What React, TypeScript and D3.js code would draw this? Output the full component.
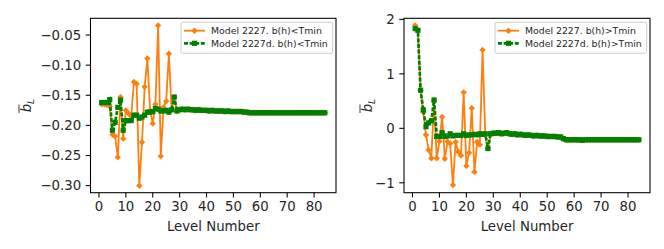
import * as d3 from 'd3'

// level numbers on the x axis
const levels = d3.range(1, 85)

// left panel: b(h)<Tmin
const leftGreen = [
  -0.162, -0.162, -0.162, -0.157, -0.208, -0.195, -0.17, -0.158, -0.208, -0.192,
  -0.192, -0.192, -0.183, -0.183, -0.188, -0.186, -0.183, -0.178, -0.178, -0.177,
  -0.172, -0.173, -0.176, -0.176, -0.175, -0.178, -0.174, -0.153, -0.176, -0.174,
  -0.173, -0.174, -0.173, -0.174, -0.174, -0.175, -0.174, -0.175, -0.175, -0.175,
  -0.176, -0.175, -0.176, -0.176, -0.176, -0.176, -0.177, -0.176, -0.177, -0.177,
  -0.177, -0.177, -0.177, -0.178, -0.178, -0.179, -0.179, -0.179, -0.179, -0.179,
  -0.179, -0.179, -0.179, -0.179, -0.179, -0.179, -0.179, -0.179, -0.179, -0.179,
  -0.179, -0.179, -0.179, -0.179, -0.179, -0.179, -0.179, -0.179, -0.179, -0.179,
  -0.179, -0.179, -0.179, -0.179,
]
const leftOrangeHead = [
  -0.165, -0.165, -0.166, -0.168, -0.215, -0.218, -0.253, -0.153, -0.222, -0.175,
  -0.18, -0.185, -0.128, -0.131, -0.3, -0.228, -0.136, -0.089, -0.175, -0.197,
  -0.165, -0.034, -0.251, -0.17, -0.16, -0.081,
]

// right panel: b(h)>Tmin
const rightGreen = [
  1.83, 1.8, 0.7, 0.34, 0.03, 0.1, 0.14, 0.52, -0.15, -0.15,
  -0.08, -0.15, -0.14, -0.1, -0.14, -0.13, -0.13, -0.13, -0.1, -0.13,
  -0.12, -0.12, -0.11, -0.12, -0.1, -0.11, -0.1, -0.37, -0.1, -0.09,
  -0.09, -0.08, -0.1, -0.09, -0.08, -0.1, -0.11, -0.1, -0.12, -0.11,
  -0.12, -0.13, -0.12, -0.13, -0.14, -0.13, -0.14, -0.14, -0.14, -0.15,
  -0.15, -0.15, -0.15, -0.16, -0.16, -0.19, -0.21, -0.21, -0.21, -0.21,
  -0.21, -0.21, -0.22, -0.21, -0.21, -0.21, -0.21, -0.21, -0.21, -0.21,
  -0.21, -0.21, -0.21, -0.21, -0.21, -0.21, -0.21, -0.21, -0.21, -0.21,
  -0.21, -0.21, -0.21, -0.21,
]
const rightOrangeHead = [
  1.89, 1.8, 0.7, 0.3, -0.12, -0.4, -0.55, 0.5, -0.55, -0.24,
  0.21, -0.56, -0.24, -0.28, -1.04, -0.25, -0.43, -0.5, 0.66, -0.69,
  -0.45, 0.37, -0.8, -0.25, -0.3, 1.44,
]

const xTicks = [0, 10, 20, 30, 40, 50, 60, 70, 80]
const leftTicks = [-0.3, -0.25, -0.2, -0.15, -0.1, -0.05]
const rightTicks = [-1, 0, 1, 2]
const leftLabels = ['Model 2227. b(h)<Tmin', 'Model 2227d. b(h)<Tmin']
const rightLabels = ['Model 2227. b(h)>Tmin', 'Model 2227d. b(h)>Tmin']

const ORANGE = '#ff7f0e'
const GREEN = '#008000'
const FONT = 'DejaVu Sans, sans-serif'
const top = 18.3
const bottom = 192.7
const SQ = 5.2
const DASH = '4 1.6'

const diamond = (r: number) => `M0,${-r}L${r},0L0,${r}L${-r},0Z`

type PanelProps = {
  left: number
  right: number
  yDomain: [number, number]
  yTicks: number[]
  fmt: (v: number) => string
  orange: number[]
  green: number[]
  labels: string[]
  labelX: number
}

const Panel = ({ left, right, yDomain, yTicks, fmt, orange, green, labels, labelX }: PanelProps) => {
  const x = d3.scaleLinear().domain([-3.15, 88.15]).range([left, right])
  const y = d3.scaleLinear().domain(yDomain).range([bottom, top])
  const line = d3
    .line<number>()
    .x((_, i) => x(levels[i]))
    .y(d => y(d))
  const clipId = `clip-${left}`
  const legW = 151.7
  const legX = right - 3.3 - legW
  const legY = top + 4
  return (
    <g>
      <defs>
        <clipPath id={clipId}>
          <rect x={left} y={top} width={right - left} height={bottom - top} />
        </clipPath>
      </defs>
      <g clipPath={`url(#${clipId})`}>
        <path d={line(orange) ?? ''} fill="none" stroke={ORANGE} strokeWidth={1.8} />
        {orange.map((v, i) => (
          <path key={i} d={diamond(3.2)} transform={`translate(${x(levels[i])},${y(v)})`} fill={ORANGE} />
        ))}
        <path
          d={line(green) ?? ''}
          fill="none"
          stroke={GREEN}
          strokeWidth={2.7}
          strokeDasharray={DASH}
        />
        {green.map((v, i) => (
          <rect key={i} x={x(levels[i]) - SQ / 2} y={y(v) - SQ / 2} width={SQ} height={SQ} fill={GREEN} />
        ))}
      </g>
      <rect
        x={left}
        y={top}
        width={right - left}
        height={bottom - top}
        fill="none"
        stroke="#000"
        strokeWidth={1.07}
      />
      {xTicks.map(t => (
        <g key={t} transform={`translate(${x(t)},${bottom})`}>
          <line y2={4.7} stroke="#000" strokeWidth={1.07} />
          <text y={18} textAnchor="middle" fontSize={13.3} fontFamily={FONT} fill="#262626">
            {t}
          </text>
        </g>
      ))}
      {yTicks.map(t => (
        <g key={t} transform={`translate(${left},${y(t)})`}>
          <line x2={-4.7} stroke="#000" strokeWidth={1.07} />
          <text x={-9.3} y={4.8} textAnchor="end" fontSize={13.3} fontFamily={FONT} fill="#262626">
            {fmt(t)}
          </text>
        </g>
      ))}
      <text
        x={(left + right) / 2}
        y={231}
        textAnchor="middle"
        fontSize={13.3}
        fontFamily={FONT}
        fill="#262626"
      >
        Level Number
      </text>
      <g transform={`translate(${labelX},${(top + bottom) / 2}) rotate(-90)`}>
        <text textAnchor="middle" fontSize={13.3} fontFamily={FONT} fill="#262626" fontStyle="italic">
          <tspan>b</tspan>
          <tspan fontSize={9.3} dy={3}>L</tspan>
        </text>
        <line x1={-7.5} x2={1} y1={-12} y2={-12} stroke="#262626" strokeWidth={0.9} />
      </g>
      <rect
        x={legX}
        y={legY}
        width={legW}
        height={31}
        rx={2}
        fill="#fff"
        fillOpacity={0.8}
        stroke="#ccc"
        strokeWidth={1}
      />
      {labels.map((lab, i) => {
        const cy = legY + 8.4 + i * 12.6
        const hx = legX + 3
        return (
          <g key={lab}>
            <line
              x1={hx}
              x2={hx + 21}
              y1={cy}
              y2={cy}
              stroke={i === 0 ? ORANGE : GREEN}
              strokeWidth={i === 0 ? 1.8 : 2.7}
              strokeDasharray={i === 0 ? undefined : DASH}
            />
            {i === 0 ? (
              <path d={diamond(3.2)} transform={`translate(${hx + 10.5},${cy})`} fill={ORANGE} />
            ) : (
              <rect x={hx + 10.5 - SQ / 2} y={cy - SQ / 2} width={SQ} height={SQ} fill={GREEN} />
            )}
            <text x={legX + 30} y={cy + 3.3} fontSize={9.33} fontFamily={FONT} fill="#262626">
              {lab}
            </text>
          </g>
        )
      })}
    </g>
  )
}

export default function App() {
  const fmt2 = d3.format('.2f')
  const fmt0 = d3.format('d')
  return (
    <svg
      width={664}
      height={249}
      style={{ position: 'absolute', left: 0, top: 0, background: '#fff' }}
    >
      <Panel
        left={90.5}
        right={336}
        yDomain={[-0.3117, -0.0222]}
        yTicks={leftTicks}
        fmt={fmt2}
        orange={leftOrangeHead.concat(leftGreen.slice(leftOrangeHead.length))}
        green={leftGreen}
        labels={leftLabels}
        labelX={31}
      />
      <Panel
        left={404}
        right={650}
        yDomain={[-1.182, 2.02]}
        yTicks={rightTicks}
        fmt={fmt0}
        orange={rightOrangeHead.concat(rightGreen.slice(rightOrangeHead.length))}
        green={rightGreen}
        labels={rightLabels}
        labelX={372}
      />
    </svg>
  )
}
